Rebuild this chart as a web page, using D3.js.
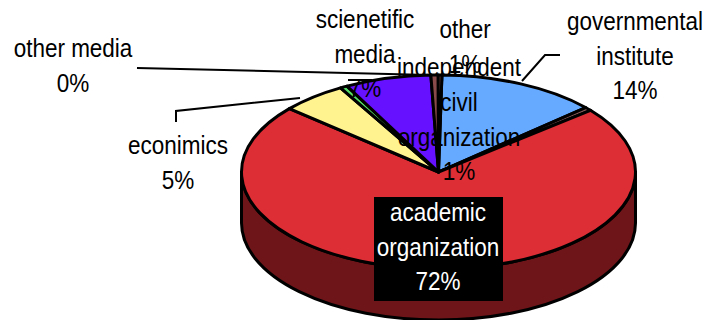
<!DOCTYPE html>
<html><head><meta charset="utf-8">
<script src="https://cdn.jsdelivr.net/npm/d3@7/dist/d3.min.js"></script>
<style>html,body{margin:0;padding:0;background:#fff}svg{display:block}text{font-family:"Liberation Sans",Arial,sans-serif;font-size:25px;text-anchor:middle}</style>
</head><body><svg id="c" width="705" height="320"></svg>
<script>
const categories = ["governmental institute","civil organization","academic organization","econimics","other media","scienetific media","other","independent"];
const values = [13.2,0.6,72.6,5.4,0.6,7.1,0.6,0.3];
const percents = ["14%","1%","72%","5%","0%","7%","1%","0%"];
const colors = ["#66AAFF","#8A5A5A","#DD2D35","#FFF38F","#55DD66","#6611FF","#8B4A4A","#8B4A4A"];
const sideColor = "#6E1519";
const cx=438.5, cy=172, rx=197, ry=97, depth=51, sy=ry/rx;

const svg=d3.select("#c");
const pie=d3.pie().sort(null).value(d=>d).startAngle(1*Math.PI/180).endAngle(361*Math.PI/180);
const arc=d3.arc().innerRadius(0).outerRadius(rx);
const g=svg.append("g").attr("transform",`translate(${cx},${cy}) scale(1,${sy})`);

const p=d3.path(), d=depth/sy;
p.moveTo(-rx,0); p.lineTo(-rx,d); p.arc(0,d,rx,Math.PI,0,true); p.lineTo(rx,0); p.arc(0,0,rx,0,Math.PI,false); p.closePath();
g.append("path").attr("d",p.toString()).attr("fill",sideColor).attr("stroke","#000").attr("stroke-width",3).attr("vector-effect","non-scaling-stroke");

g.selectAll("path.s").data(pie(values)).join("path").attr("class","s")
 .attr("d",arc).attr("fill",(_,i)=>colors[i]).attr("stroke","#000").attr("stroke-width",3)
 .attr("stroke-linejoin","round").attr("vector-effect","non-scaling-stroke");

const leaders=[
 [[137,68],[430,75]],
 [[176,122],[176,111],[300,98]],
 [[560,55],[545,55],[522,81]],
 [[348,80],[372,80]]
];
const line=d3.line();
svg.selectAll("path.l").data(leaders).join("path").attr("class","l").attr("d",line).attr("fill","none").attr("stroke","#000").attr("stroke-width",2);

svg.append("rect").attr("x",374).attr("y",197).attr("width",129).attr("height",104).attr("fill","#000");

const labelLines=[
 ["governmental","institute","14%"],
 ["civil","organization","1%"],
 ["academic","organization","72%"],
 ["econimics","5%"],
 ["other media","0%"],
 ["scienetific","media","7%"],
 ["other","1%"],
 ["independent"]
];
const labelPos=[[635,30],[459,111],[438,221],[178,154],[73,57],[365,28],[465,38],[459,76]];
const gap=34.7, squeeze=0.9;
labelLines.forEach((ls,i)=>{
  ls.forEach((t,j)=>svg.append("text")
    .attr("transform",`translate(${labelPos[i][0]},${labelPos[i][1]+j*gap}) scale(${squeeze},1)`)
    .attr("fill",i==2?"#fff":"#000").text(t));
});
</script></body></html>
